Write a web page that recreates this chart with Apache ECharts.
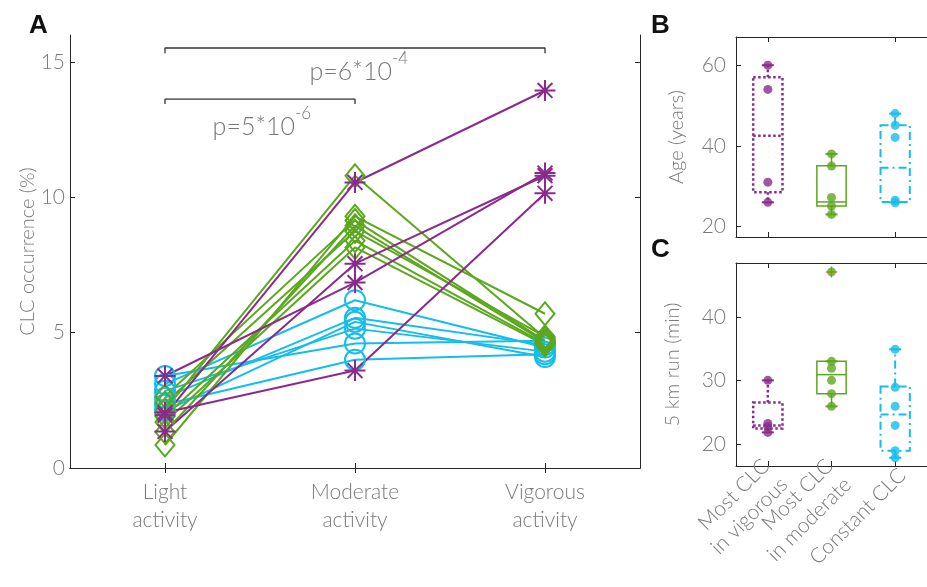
<!DOCTYPE html>
<html>
<head>
<meta charset="utf-8">
<script src="https://cdn.jsdelivr.net/npm/echarts@6/dist/echarts.min.js"></script>
<style>html,body{margin:0;padding:0;background:#fff}#c{width:927px;height:587px}</style>
</head>
<body>
<div id="c"></div>
<script>
// ---------- Panel A data ----------
const activityCategories = ['Light\nactivity', 'Moderate\nactivity', 'Vigorous\nactivity'];
const activityTicks = [0, 5, 10, 15];

const purpleLight    = [1.95, 3.40, 1.35, 2.05];
const purpleModerate = [10.55, 6.85, 7.55, 3.60];
const purpleVigorous = [13.95, 10.90, 10.80, 10.15];

const greenLight    = [2.15, 0.85, 2.65, 1.33, 2.40, 1.90, 1.70];
const greenModerate = [10.80, 9.30, 9.15, 8.95, 8.75, 8.40, 8.15];
const greenVigorous = [4.80, 5.70, 4.70, 4.65, 4.85, 4.60, 4.55];

const cyanLight    = [3.40, 3.10, 2.85, 2.60, 2.35, 2.10];
const cyanModerate = [4.60, 6.20, 5.15, 5.55, 4.00, 5.40];
const cyanVigorous = [4.70, 4.45, 4.30, 4.55, 4.20, 4.10];

const bracketUpper = [[1, 15.33], [1, 15.52], [3, 15.52], [3, 15.33]];
const bracketLower = [[1, 13.45], [1, 13.63], [2, 13.63], [2, 13.45]];
const pLabels = [
  {pos: [2.02, 14.8], base: 'p=6*10', exp: '-4'},
  {pos: [1.51, 12.77], base: 'p=5*10', exp: '-6'}
];

// ---------- Panels B / C data ----------
const groupCategories = ['Most CLC\nin vigorous', 'Most CLC\nin moderate', 'Constant CLC'];
// [lower whisker, Q1, median, Q3, upper whisker]
const ageStats = [[26, 28.5, 42.5, 57, 60], [23, 25.1, 26.1, 35.1, 38], [26, 26.1, 34.6, 45.1, 48]];
const agePoints = [[60, 54, 31, 26], [38, 35, 27.2, 25.1, 23], [48, 45.1, 42.1, 26.5, 25.9]];
const ageTicks = [20, 40, 60];

const runStats = [[21.8, 22.4, 22.9, 26.5, 30], [25.9, 27.9, 30.9, 33, 33], [17.8, 18.9, 24.6, 29.05, 34.9]];
const runPoints = [[30, 23.2, 22.7, 21.8], [47.1, 33, 31.9, 30, 27.9, 25.9], [34.9, 28.9, 25.9, 22.9, 18.9, 17.8]];
const runOutliers = [[1, 47.1]];
const runTicks = [20, 30, 40];

// ---------- styles ----------
const PURPLE = '#8B2A8D', GREEN = '#5BA71D', CYAN = '#15BDEB';
const groupColors = [PURPLE, GREEN, CYAN];
const groupDash = [[2.5, 2.5], null, [8, 4, 2, 4]];
const groupWidth = [2.5, 1.5, 2];
const AXIS = '#262626';
const TXT = '#7a7a7a';
const FONT = 'Lato';
const asterisk = 'path://M10,0L10,20M0,10L20,10M2.93,2.93L17.07,17.07M2.93,17.07L17.07,2.93';
const plus = 'path://M10,0L10,20M0,10L20,10';

const labelStyle = {color: TXT, fontFamily: FONT, fontWeight: 300, fontSize: 21};
const nameStyle = {color: TXT, fontFamily: FONT, fontWeight: 300, fontSize: 20};

function subjectSeries(light, mod, vig, color, symbol, size) {
  return light.map((l, i) => ({
    type: 'line', xAxisIndex: 0, yAxisIndex: 0, silent: true, animation: false,
    data: [[1, l], [2, mod[i]], [3, vig[i]]],
    symbol: symbol, symbolSize: size, showSymbol: true,
    lineStyle: {color: color, width: 2},
    itemStyle: {color: 'rgba(0,0,0,0)', borderColor: color, borderWidth: 2},
    emphasis: {disabled: true}, z: 2
  }));
}

function boxSeries(stats, xi, yi) {
  return {
    type: 'custom', xAxisIndex: xi, yAxisIndex: yi, silent: true, animation: false,
    data: stats.map((s, i) => [i].concat(s)),
    encode: {x: 0, y: [1, 2, 3, 4, 5]},
    renderItem: function (params, api) {
      const ci = api.value(0);
      const c = groupColors[ci];
      const bw = api.size([1, 0])[0] * 0.46;
      const lo = api.coord([ci, api.value(1)]);
      const q1 = api.coord([ci, api.value(2)]);
      const md = api.coord([ci, api.value(3)]);
      const q3 = api.coord([ci, api.value(4)]);
      const hi = api.coord([ci, api.value(5)]);
      const x = q1[0];
      const st = {stroke: c, lineWidth: groupWidth[ci], fill: 'none', lineDash: groupDash[ci]};
      const cap = 6;
      const kids = [
        {type: 'rect', shape: {x: x - bw / 2, y: q3[1], width: bw, height: q1[1] - q3[1]}, style: st},
        {type: 'line', shape: {x1: x - bw / 2, y1: md[1], x2: x + bw / 2, y2: md[1]}, style: st},
        {type: 'line', shape: {x1: x, y1: q3[1], x2: x, y2: hi[1]}, style: st},
        {type: 'line', shape: {x1: x, y1: q1[1], x2: x, y2: lo[1]}, style: st},
        {type: 'line', shape: {x1: x - cap, y1: hi[1], x2: x + cap, y2: hi[1]}, style: {stroke: c, lineWidth: 2}},
        {type: 'line', shape: {x1: x - cap, y1: lo[1], x2: x + cap, y2: lo[1]}, style: {stroke: c, lineWidth: 2}}
      ];
      return {type: 'group', children: kids};
    }, z: 2
  };
}

function dotSeries(points, xi, yi) {
  const data = [];
  points.forEach((arr, ci) => arr.forEach(v => data.push({value: [ci, v], itemStyle: {color: groupColors[ci]}})));
  return {type: 'scatter', xAxisIndex: xi, yAxisIndex: yi, silent: true, animation: false,
    symbol: 'circle', symbolSize: 9, data: data, z: 4};
}

const series = [];
subjectSeries(cyanLight, cyanModerate, cyanVigorous, CYAN, 'circle', 20).forEach(s => series.push(s));
subjectSeries(greenLight, greenModerate, greenVigorous, GREEN, 'diamond', [19, 23]).forEach(s => series.push(s));
subjectSeries(purpleLight, purpleModerate, purpleVigorous, PURPLE, asterisk, 21).forEach(s => series.push(s));

[bracketUpper, bracketLower].forEach(b => series.push({
  type: 'line', xAxisIndex: 0, yAxisIndex: 0, silent: true, animation: false,
  data: b, symbol: 'none', lineStyle: {color: '#333', width: 1.3}, z: 1
}));
series.push({
  type: 'scatter', xAxisIndex: 0, yAxisIndex: 0, silent: true, animation: false,
  symbolSize: 0,
  data: pLabels.map(p => ({value: p.pos})),
  label: {
    show: true, position: 'inside',
    formatter: function (p) { return '{b|' + pLabels[p.dataIndex].base + '}{s|' + pLabels[p.dataIndex].exp + '}'; },
    rich: {
      b: {fontSize: 25, fontFamily: FONT, fontWeight: 300, color: '#555', verticalAlign: 'bottom', lineHeight: 34},
      s: {fontSize: 17, fontFamily: FONT, fontWeight: 300, color: '#555', verticalAlign: 'top', lineHeight: 34}
    }
  }
});

series.push(boxSeries(ageStats, 2, 2));
series.push(dotSeries(agePoints, 2, 2));
series.push(boxSeries(runStats, 4, 4));
series.push({type: 'scatter', xAxisIndex: 4, yAxisIndex: 4, silent: true, animation: false,
  symbol: plus, symbolSize: 11, data: runOutliers,
  itemStyle: {color: 'rgba(0,0,0,0)', borderColor: '#e8322a', borderWidth: 1.5}, z: 3});
series.push(dotSeries(runPoints, 4, 4));

function boxAxisLine() { return {show: true, lineStyle: {color: AXIS, width: 1}}; }
const tickIn = {show: true, inside: true, length: 5, lineStyle: {color: AXIS, width: 1}};

const option = {
  animation: false,
  backgroundColor: '#fff',
  grid: [
    {left: 70, top: 35, width: 570, height: 433},
    {left: 736, top: 37, width: 201, height: 200},
    {left: 736, top: 263, width: 201, height: 203}
  ],
  xAxis: [
    {gridIndex: 0, type: 'value', min: 0.5, max: 3.5, position: 'bottom',
      axisLine: boxAxisLine(), splitLine: {show: false},
      axisTick: Object.assign({}, tickIn, {customValues: [1, 2, 3]}),
      axisLabel: Object.assign({}, labelStyle, {customValues: [1, 2, 3], margin: 10, lineHeight: 28,
        formatter: v => activityCategories[Math.round(v) - 1]})},
    {gridIndex: 0, type: 'value', min: 0.5, max: 3.5, position: 'top',
      axisLine: boxAxisLine(), splitLine: {show: false},
      axisTick: Object.assign({}, tickIn, {customValues: [1, 2, 3]}), axisLabel: {show: false}},
    {gridIndex: 1, type: 'category', data: groupCategories, position: 'bottom',
      axisLine: boxAxisLine(), axisTick: Object.assign({}, tickIn, {alignWithLabel: true}), axisLabel: {show: false}},
    {gridIndex: 1, type: 'category', data: groupCategories, position: 'top',
      axisLine: boxAxisLine(), axisTick: Object.assign({}, tickIn, {alignWithLabel: true}), axisLabel: {show: false}},
    {gridIndex: 2, type: 'category', data: groupCategories, position: 'bottom',
      axisLine: boxAxisLine(), axisTick: Object.assign({}, tickIn, {alignWithLabel: true}),
      axisLabel: Object.assign({}, labelStyle, {rotate: 45, interval: 0, margin: 13, lineHeight: 26,
        padding: [0, -10, 0, 0]})},
    {gridIndex: 2, type: 'category', data: groupCategories, position: 'top',
      axisLine: boxAxisLine(), axisTick: Object.assign({}, tickIn, {alignWithLabel: true}), axisLabel: {show: false}}
  ],
  yAxis: [
    {gridIndex: 0, type: 'value', min: 0, max: 16, position: 'left',
      name: 'CLC occurrence (%)', nameLocation: 'middle', nameGap: 32, nameMoveOverlap: false,
      nameTextStyle: nameStyle,
      axisLine: boxAxisLine(), splitLine: {show: false},
      axisTick: Object.assign({}, tickIn, {customValues: activityTicks}),
      axisLabel: Object.assign({}, labelStyle, {customValues: activityTicks, margin: 5})},
    {gridIndex: 0, type: 'value', min: 0, max: 16, position: 'right',
      axisLine: boxAxisLine(), splitLine: {show: false},
      axisTick: Object.assign({}, tickIn, {customValues: activityTicks}), axisLabel: {show: false}},
    {gridIndex: 1, type: 'value', min: 17.4, max: 67, position: 'left',
      name: 'Age (years)', nameLocation: 'middle', nameGap: 49, nameMoveOverlap: false, nameTextStyle: nameStyle,
      axisLine: boxAxisLine(), splitLine: {show: false},
      axisTick: Object.assign({}, tickIn, {customValues: ageTicks}),
      axisLabel: Object.assign({}, labelStyle, {customValues: ageTicks, margin: 10})},
    {gridIndex: 1, type: 'value', min: 17.4, max: 67, position: 'right',
      axisLine: boxAxisLine(), splitLine: {show: false}, axisTick: {show: false}, axisLabel: {show: false}},
    {gridIndex: 2, type: 'value', min: 16.5, max: 48.5, position: 'left',
      name: '5 km run (min)', nameLocation: 'middle', nameGap: 53, nameMoveOverlap: false, nameTextStyle: nameStyle,
      axisLine: boxAxisLine(), splitLine: {show: false},
      axisTick: Object.assign({}, tickIn, {customValues: runTicks}),
      axisLabel: Object.assign({}, labelStyle, {customValues: runTicks, margin: 10})}
  ],
  graphic: [
    {type: 'text', x: 29, y: 25.5, style: {text: 'A', font: 'bold 26px "Liberation Sans"', fill: '#111', verticalAlign: 'middle'}},
    {type: 'text', x: 651, y: 25.5, style: {text: 'B', font: 'bold 26px "Liberation Sans"', fill: '#111', verticalAlign: 'middle'}},
    {type: 'text', x: 651, y: 250, style: {text: 'C', font: 'bold 26px "Liberation Sans"', fill: '#111', verticalAlign: 'middle'}}
  ],
  series: series
};

const chart = echarts.init(document.getElementById('c'), null, {renderer: 'canvas'});
chart.setOption(option);
</script>
</body>
</html>
